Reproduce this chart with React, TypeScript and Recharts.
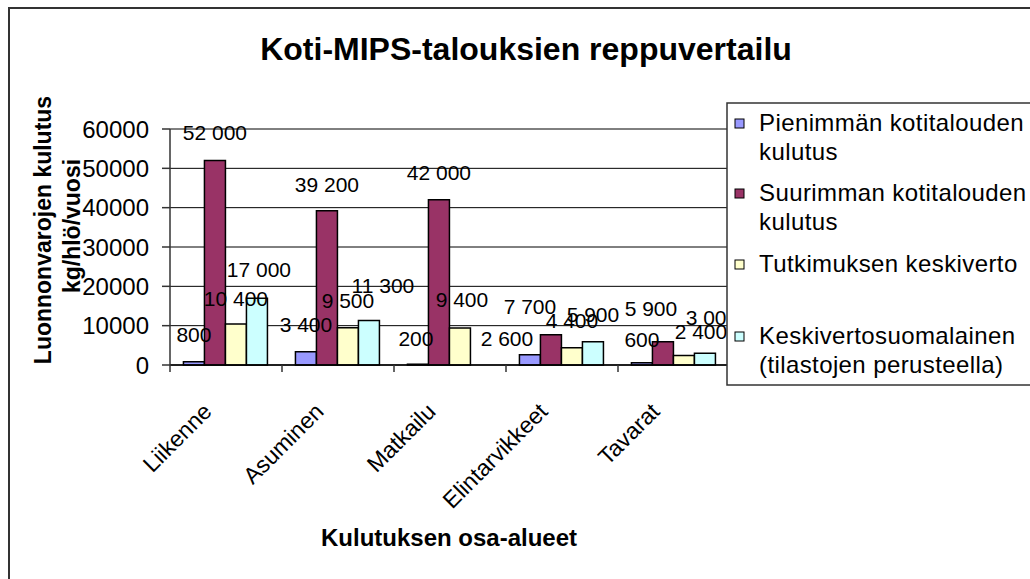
import { BarChart, Bar, XAxis, YAxis, CartesianGrid, LabelList } from "recharts";

const categories = ["Liikenne", "Asuminen", "Matkailu", "Elintarvikkeet", "Tavarat"];
const pienin = [800, 3400, 200, 2600, 600];
const suurin = [52000, 39200, 42000, 7700, 5900];
const tutkimus = [10400, 9500, 9400, 4400, 2400];
const keskiverto: (number | null)[] = [17000, 11300, null, 5900, 3000];
const yTicks = [0, 10000, 20000, 30000, 40000, 50000, 60000];

const series = [
  { key: "pienin", color: "#9999FF", lines: ["Pienimmän kotitalouden", "kulutus"] },
  { key: "suurin", color: "#993366", lines: ["Suurimman kotitalouden", "kulutus"] },
  { key: "tutkimus", color: "#FFFFCC", lines: ["Tutkimuksen keskiverto"] },
  { key: "keskiverto", color: "#CCFFFF", lines: ["Keskivertosuomalainen", "(tilastojen perusteella)"] },
];

// small nudges of the value labels, like the original where labels were pushed apart
const labelNudge: Record<string, [number, number][]> = {
  pienin: [[0, 0], [0, 0], [-2, 2], [-23, 11], [0, 4]],
  suurin: [[0, 0], [0, 1], [0, 0], [-21, -1], [-12, -6]],
  tutkimus: [[0, 2], [0, 0], [2, -1], [0, 0], [17, 3]],
  keskiverto: [[2, -1], [14, -8], [0, 0], [7, -8], [6, -16]],
};

const data = categories.map((name, i) => ({
  name,
  pienin: pienin[i],
  suurin: suurin[i],
  tutkimus: tutkimus[i],
  keskiverto: keskiverto[i],
}));

const FONT = '"Liberation Sans", Arial, sans-serif';
const W = 1030;
const H = 579;
const PLOT_LEFT = 170;
const PLOT_RIGHT = 730;
const PLOT_TOP = 129;
const PLOT_BOTTOM = 365;
const BAND = (PLOT_RIGHT - PLOT_LEFT) / categories.length;

// legend rows: text centre y of the first line of each entry
const legendRows = [123, 193, 264, 336];
const LINE_H = 29;

const fmt = (v: number) => String(v).replace(/\B(?=(\d{3})+(?!\d))/g, " ");

const makeLabel = (key: string) => (props: any) => {
  const { x, y, width, value, index } = props;
  if (value == null) return null;
  const [dx, dy] = labelNudge[key][index] || [0, 0];
  return (
    <text x={x + width / 2 + dx} y={y - 20 + dy} textAnchor="middle" fontSize={21} fontFamily={FONT} fill="#000">
      {fmt(value)}
    </text>
  );
};

// category label + tick marks between categories (Excel style)
const CategoryTick = (props: any) => {
  const { x, y, payload, index } = props;
  const axisY = y - 7;
  const left = x - BAND / 2;
  const ax = x - 13;
  const ay = axisY + 48;
  return (
    <g>
      <line x1={left} y1={axisY} x2={left} y2={axisY + 7} stroke="#333" strokeWidth={1.5} />
      {index === categories.length - 1 && (
        <line x1={x + BAND / 2} y1={axisY} x2={x + BAND / 2} y2={axisY + 7} stroke="#333" strokeWidth={1.5} />
      )}
      <text
        x={ax}
        y={ay}
        textAnchor="end"
        fontSize={23}
        fontFamily={FONT}
        fill="#000"
        transform={`rotate(-45, ${ax}, ${ay})`}
      >
        {payload.value}
      </text>
    </g>
  );
};

export default function App() {
  return (
    <div style={{ position: "absolute", left: 0, top: 0, width: W, height: H, overflow: "hidden", background: "#fff" }}>
      <div
        style={{
          position: "absolute",
          left: 8,
          top: 7,
          width: W + 20,
          height: H + 20,
          border: "2px solid #333",
          boxSizing: "border-box",
        }}
      />
      <div style={{ position: "absolute", left: 0, top: 0 }}>
        <BarChart
          width={W}
          height={H}
          data={data}
          margin={{ top: PLOT_TOP, right: W - PLOT_RIGHT, bottom: 0, left: 0 }}
          barCategoryGap="12%"
          barGap={0}
        >
          <CartesianGrid vertical={false} stroke="#000" strokeWidth={1} />
          <XAxis
            dataKey="name"
            height={H - PLOT_BOTTOM}
            axisLine={{ stroke: "#000", strokeWidth: 1.5 }}
            tickLine={false}
            tickSize={7}
            tickMargin={0}
            interval={0}
            tick={<CategoryTick />}
          />
          <YAxis
            width={PLOT_LEFT}
            domain={[0, 60000]}
            ticks={yTicks}
            interval={0}
            axisLine={{ stroke: "#333", strokeWidth: 1.5 }}
            tickLine={{ stroke: "#333", strokeWidth: 1.5 }}
            tickSize={8}
            tickMargin={13}
            tick={{ fontSize: 24, fontFamily: FONT, fill: "#000" }}
          />
          {series.map((s) => (
            <Bar
              key={s.key}
              dataKey={s.key}
              fill={s.color}
              stroke="#000"
              strokeWidth={1.5}
              isAnimationActive={false}
            >
              <LabelList dataKey={s.key} content={makeLabel(s.key)} />
            </Bar>
          ))}
        </BarChart>
      </div>
      <svg width={W} height={H} style={{ position: "absolute", left: 0, top: 0, pointerEvents: "none" }}>
        <text x={526} y={60} textAnchor="middle" fontSize={32} fontWeight="bold" fontFamily={FONT} fill="#000">
          Koti-MIPS-talouksien reppuvertailu
        </text>
        <text
          x={51}
          y={230}
          textAnchor="middle"
          fontSize={23}
          fontWeight="bold"
          fontFamily={FONT}
          fill="#000"
          transform="rotate(-90, 51, 230)"
        >
          Luonnonvarojen kulutus
        </text>
        <text
          x={80}
          y={226}
          textAnchor="middle"
          fontSize={23}
          fontWeight="bold"
          fontFamily={FONT}
          fill="#000"
          transform="rotate(-90, 80, 226)"
        >
          kg/hlö/vuosi
        </text>
        <text x={449} y={546} textAnchor="middle" fontSize={24} fontWeight="bold" fontFamily={FONT} fill="#000">
          Kulutuksen osa-alueet
        </text>
        <rect x={727} y={103} width={400} height={282} fill="#fff" stroke="#333" strokeWidth={1.5} />
        {series.map((s, i) => (
          <g key={s.key}>
            <rect x={735} y={legendRows[i] - 4} width={9} height={9} fill={s.color} stroke="#000" strokeWidth={1} />
            {s.lines.map((line, j) => (
              <text
                key={j}
                x={759}
                y={legendRows[i] + j * LINE_H + 8}
                fontSize={24}
                fontFamily={FONT}
                letterSpacing={0.4}
                fill="#000"
              >
                {line}
              </text>
            ))}
          </g>
        ))}
      </svg>
    </div>
  );
}
